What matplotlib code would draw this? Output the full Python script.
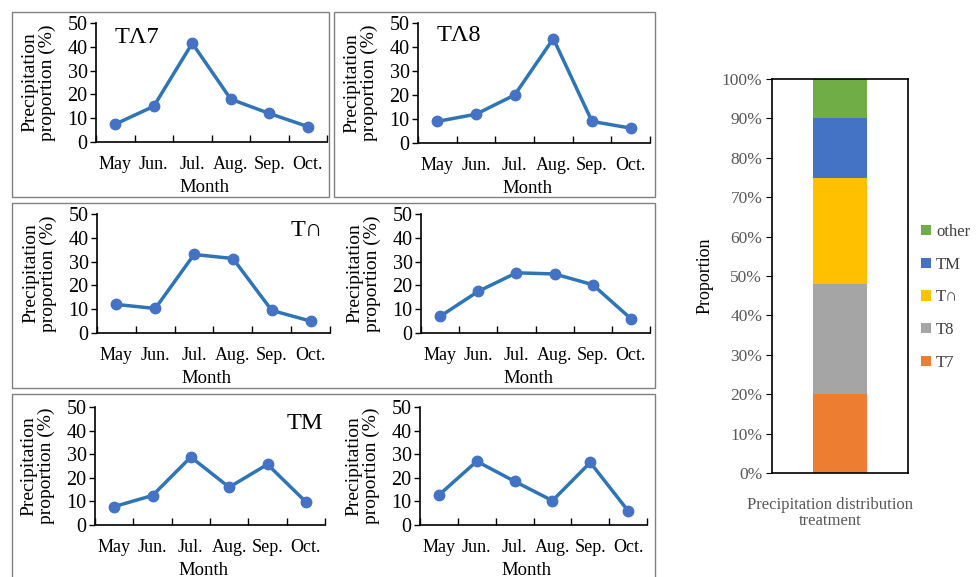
import matplotlib.pyplot as plt
from matplotlib.patches import Rectangle
from matplotlib.ticker import FixedLocator

plt.rcParams['font.family'] = ['Liberation Serif', 'DejaVu Serif']

W, H = 980, 577

months = ['May', 'Jun.', 'Jul.', 'Aug.', 'Sep.', 'Oct.']
t7 = [7.5, 15, 41.5, 18, 12, 6.5]
t8 = [9, 12, 20, 43.5, 9, 6.2]
tcap = [12, 10.3, 33, 31.3, 9.5, 5]
tflat = [7, 17.5, 25.3, 24.8, 20.3, 6]
tm = [7.8, 12.5, 28.8, 16, 25.7, 9.8]
tm2 = [12.7, 27, 18.5, 10.3, 26.5, 6]
series = [t7, t8, tcap, tflat, tm, tm2]
titles = ['TΛ7', 'TΛ8', 'T∩', '', 'TM', '']

# stacked bar
treat_names = ['T7', 'T8', 'T∩', 'TM', 'other']
treat_share = [20, 28, 27, 15, 10]
treat_colors = ['#ED7D31', '#A5A5A5', '#FFC000', '#4472C4', '#70AD47']

line_col = '#2E75B6'
dot_col = '#4472C4'


def px_axes(x0, x1, ytop, ybot):
    return [x0 / W, 1 - ybot / H, (x1 - x0) / W, (ybot - ytop) / H]


fig = plt.figure(figsize=(W / 100, H / 100), dpi=100)

# panel frames
for x0, x1, y0, y1 in [(12, 329, 12, 197), (334, 655, 12, 197),
                       (12, 655, 203, 388), (12, 655, 394, 590)]:
    fig.patches.append(Rectangle((x0 / W, 1 - y1 / H), (x1 - x0) / W, (y1 - y0) / H,
                                 transform=fig.transFigure, fill=False,
                                 edgecolor='#808080', lw=1.0))

boxes = [(96, 327, 23, 142), (418, 650, 23, 143),
         (97, 330, 214, 333), (421, 650, 214, 333),
         (95, 325, 407, 525), (420, 647, 407, 525)]
title_pos = [(0.08, 0.97, 'left'), (0.08, 0.98, 'left'),
             (0.97, 0.95, 'right'), (0.97, 0.95, 'right'),
             (0.99, 0.95, 'right'), (0.99, 0.95, 'right')]

for i, b in enumerate(boxes):
    ax = fig.add_axes(px_axes(*b))
    x = list(range(len(months)))
    ax.plot(x, series[i], color=line_col, lw=2.5, marker='o', ms=7.5,
            markerfacecolor=dot_col, markeredgecolor=dot_col)
    ax.set_xlim(-0.5, 5.5)
    ax.set_ylim(0, 50)
    ax.set_yticks(range(0, 51, 10))
    ax.xaxis.set_major_locator(FixedLocator([k - 0.5 for k in range(7)]))
    ax.xaxis.set_minor_locator(FixedLocator(x))
    ax.set_xticklabels([])
    ax.set_xticklabels(months, minor=True)
    ax.tick_params(axis='x', which='major', direction='in', length=5, width=1)
    ax.tick_params(axis='x', which='minor', length=0, pad=10, labelsize=13)
    ax.tick_params(axis='y', direction='out', length=4, width=1, labelsize=14.5, pad=2)
    for s in ['top', 'right']:
        ax.spines[s].set_visible(False)
    for s in ['left', 'bottom']:
        ax.spines[s].set_linewidth(1.2)
    ax.set_ylabel('Precipitation\nproportion (%)', fontsize=14, linespacing=1.05)
    ax.yaxis.set_label_coords(-40 / (b[1] - b[0]), 0.5)
    ax.set_xlabel('Month', fontsize=13.5)
    ax.xaxis.set_label_coords(0.47, -0.31)
    if titles[i]:
        tx, ty, ha = title_pos[i]
        ax.text(tx, ty, titles[i], transform=ax.transAxes, ha=ha, va='top',
                fontsize=17.5)

# stacked proportion bar
bx = fig.add_axes(px_axes(772, 908, 79, 473))
bottom = 0
handles = []
for name, val, col in zip(treat_names, treat_share, treat_colors):
    h = bx.bar(0, val, bottom=bottom, width=0.4, color=col, label=name)
    handles.append(h)
    bottom += val
bx.set_xlim(-0.5, 0.5)
bx.set_ylim(0, 100)
bx.set_yticks(range(0, 101, 10))
bx.set_yticklabels([f'{v}%' for v in range(0, 101, 10)], color='#595959')
bx.set_xticks([])
bx.tick_params(axis='y', direction='out', length=4, labelsize=12.5, pad=3)
for s in bx.spines.values():
    s.set_linewidth(1.2)
bx.set_ylabel('Proportion', fontsize=13)
bx.yaxis.set_label_coords(-0.43, 0.5)
bx.set_xlabel('Precipitation distribution\ntreatment', fontsize=12, color='#595959',
              linespacing=1.05)
bx.xaxis.set_label_coords(0.43, -0.06)
fig.legend(handles[::-1], treat_names[::-1], loc='upper left',
           bbox_to_anchor=(906 / W, 1 - 209 / H), frameon=False, fontsize=12,
           handlelength=0.6, handleheight=0.6, handletextpad=0.3,
           labelspacing=1.0, labelcolor='#404040')

fig.savefig('out.png', dpi=100)
